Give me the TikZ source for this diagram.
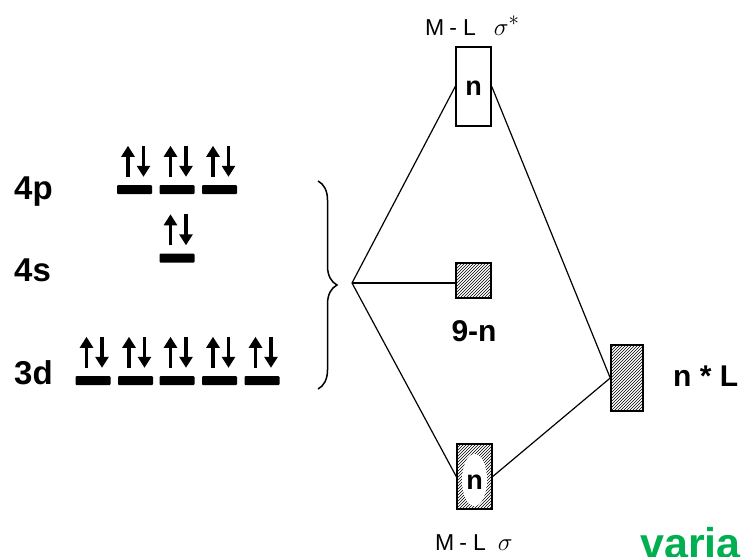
\documentclass[tikz,border=0pt]{standalone}
\usepackage{fontspec}
\setmainfont{Liberation Sans}
\usetikzlibrary{patterns,decorations.pathreplacing,arrows.meta}
\definecolor{vgreen}{RGB}{0,176,80}
\newcommand\spinpair[1]{%
  \draw[spin] ([xshift=-6.5pt,yshift=8pt]#1.north) -- ++(0,-31);
  \draw[spin] ([xshift=9pt,yshift=39pt]#1.north) -- ++(0,31);}
\newcommand\bigsig[1]{{\fontsize{30}{30}\selectfont$\sigma#1$}}
\begin{document}
\begin{tikzpicture}[x=1pt,y=-1pt,
  lvl/.style={fill=black,rounded corners=1pt,minimum width=35pt,minimum height=9pt,inner sep=0pt},
  spin/.style={line width=3.5pt,-{Triangle[length=11pt,width=13pt]}},
  lab/.style={font=\bfseries\fontsize{33}{33}\selectfont,inner sep=0pt},
  blab/.style={font=\bfseries\fontsize{30}{30}\selectfont,inner sep=0pt},
  mo/.style={draw,line width=1.5pt,inner sep=0pt},
  hatch/.style={pattern=north east lines},
  conn/.style={line width=1.2pt},
  ml/.style={font=\fontsize{23}{23}\selectfont,inner sep=0pt}]
\useasboundingbox (0,0) rectangle (742,557);
% atomic levels
\node[lvl] (p1) at (134.5,189.5) {};
\node[lvl] (p2) at (177,189.5) {};
\node[lvl] (p3) at (219.5,189.5) {};
\node[lvl] (s1) at (177,258) {};
\node[lvl] (d1) at (93,380.5) {};
\node[lvl] (d2) at (135.5,380.5) {};
\node[lvl] (d3) at (177,380.5) {};
\node[lvl] (d4) at (219.5,380.5) {};
\node[lvl] (d5) at (262,380.5) {};
\foreach \o in {p1,p2,p3,s1,d1,d2,d3,d4,d5}{\spinpair{\o}}
\node[lab,anchor=base west] (l4p) at (14,199) {4p};
\node[lab,anchor=base west] (l4s) at (14,281) {4s};
\node[lab,anchor=base west] (l3d) at (14,384) {3d};
% brace
\draw[line width=1.5pt,decorate,decoration={brace,amplitude=19pt}] (318,181) -- (318,389);
\coordinate (apex) at (352,283);
% molecular orbitals
\node[mo,minimum width=35pt,minimum height=79pt] (top) at (473.5,86.5) {};
\node[blab,font=\bfseries\fontsize{27}{27}\selectfont] (ntop) at (473.5,88) {n};
\node[mo,hatch,minimum width=35pt,minimum height=35pt] (mid) at (473.5,280.5) {};
\node[mo,hatch,minimum width=35pt,minimum height=65pt] (bot) at (474.5,476.5) {};
\fill[white] (474.5,480) ellipse[x radius=12.5pt,y radius=26pt];
\node[blab,font=\bfseries\fontsize{27}{27}\selectfont] (nbot) at (474.5,482) {n};
\node[mo,hatch,minimum width=32pt,minimum height=66pt] (nl) at (627,378) {};
% connectors
\draw[conn] (apex) -- (top.west);
\draw[conn] (apex) -- (apex -| mid.west);
\draw[conn] (apex) -- (bot.west);
\draw[conn] (top.east) -- (nl.west);
\draw[conn] (bot.east) -- (nl.west);
% labels
\node[ml,anchor=base west] (mlstar) at (425,35) {M\hspace{5pt}-\hspace{6pt}L\hspace{18pt}\bigsig{^*}};
\node[ml,anchor=base west] (mlsig) at (435,550) {M\hspace{5pt}-\hspace{6pt}L\hspace{12pt}\bigsig{}};
\node[blab] (nine) at (474,331) {9-n};
\node[blab,anchor=west] (nstarl) at (673,376) {n * L};
\node[inner sep=0pt,anchor=base west,text=vgreen,font=\bfseries\fontsize{43}{43}\selectfont] (var) at (640,558) {varia};
\end{tikzpicture}
\end{document}
